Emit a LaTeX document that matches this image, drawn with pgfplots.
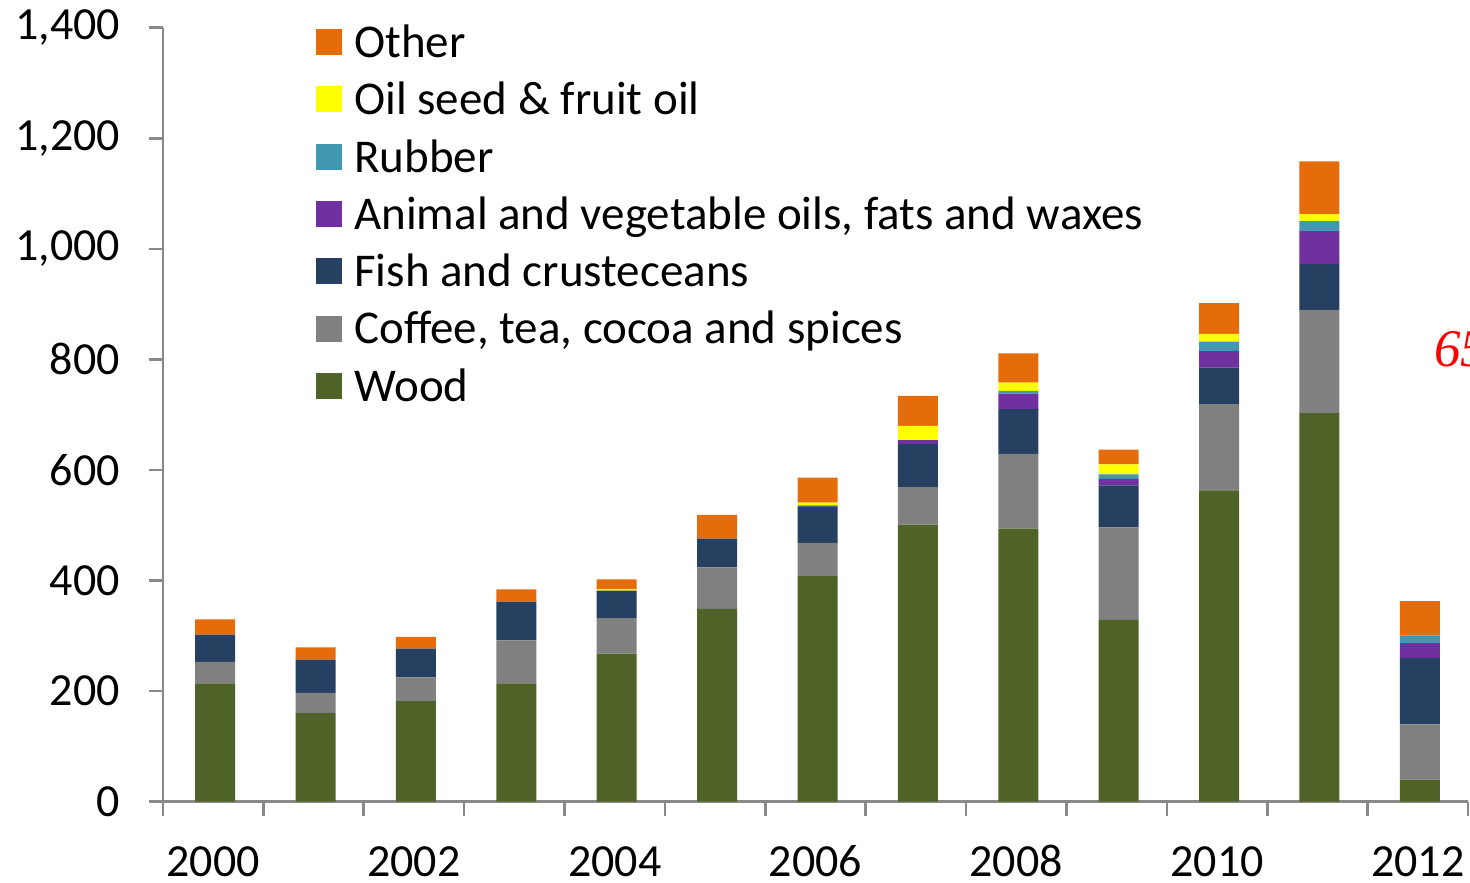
\documentclass[border=0pt]{standalone}
\usepackage{pgfplots}
\pgfplotsset{compat=1.18}
\usepackage{fontspec}
\setmainfont{Carlito}
\newfontfamily\redserif{Liberation Serif}
\definecolor{cWood}{RGB}{79,98,40}
\definecolor{cCoffee}{RGB}{128,128,128}
\definecolor{cFish}{RGB}{37,64,97}
\definecolor{cAnimal}{RGB}{112,48,160}
\definecolor{cRubber}{RGB}{67,151,177}
\definecolor{cOil}{RGB}{255,255,0}
\definecolor{cOther}{RGB}{228,108,10}
\definecolor{axisgray}{RGB}{137,137,137}

\pgfplotstableread{
x wood coffee fish animal rubber oil other
0  214 39  49  0  0  0  28
1  160 37  60  0  0  0  22
2  182 43  52  0  0  0  21
3  214 78  70  0  0  0  22
4  268 64  50  0  0  2  18
5  349 75  52  0  0  0  43
6  408 60  66  1  1  5  45
7  501 68  78  7  0  26 54
8  494 135 81  28 5  15 53
9  329 167 76  12 8  18 27
10 563 156 66  30 17 14 56
11 703 186 84  59 18 13 95
12 40  100 120 27 14 0  62
}\datatable

\begin{document}
\begin{tikzpicture}
\begin{axis}[
  at={(0pt,0pt)}, anchor=south west,
  scale only axis, width=652.5pt, height=387pt,
  xmin=-0.5, xmax=12.5, ymin=0, ymax=1400,
  ybar stacked, bar width=20pt, /pgf/bar shift=1pt,
  axis lines*=left,
  axis line style={draw=axisgray, line width=1.3pt},
  tick style={draw=axisgray, line width=1.3pt},
  tick align=outside, major tick length=7pt,
  xtick={-0.5,0.5,...,12.5}, xticklabels={},
  extra x ticks={0,2,4,6,8,10,12},
  extra x tick labels={2000,2002,2004,2006,2008,2010,2012},
  extra x tick style={major tick length=0pt, tick style={draw=none},
     xticklabel style={anchor=base, yshift=-37.5pt}},
  ytick={0,200,...,1400},
  tick label style={font=\fontsize{23}{27}\selectfont},
  yticklabel style={anchor=east, xshift=-11pt},
  /pgf/number format/.cd, 1000 sep={,}, assume math mode=true, /pgfplots/.cd,
  every axis plot/.append style={draw=none},
  legend style={draw=none, fill=none, at={(0.1126,1.0163)}, anchor=north west,
     font=\fontsize{23.5}{28}\selectfont, column sep=0pt, row sep=0pt,
     nodes={inner sep=0pt, text height=19pt, text depth=9.65pt}},
  legend cell align=left,
  reverse legend,
  legend image code/.code={\path[#1,draw=none] (0pt,-3.5pt) rectangle (13pt,9.5pt); \path (19pt,0pt);},
]
\addplot[fill=cWood] table[x=x,y=wood]{\datatable};
\addplot[fill=cCoffee] table[x=x,y=coffee]{\datatable};
\addplot[fill=cFish] table[x=x,y=fish]{\datatable};
\addplot[fill=cAnimal] table[x=x,y=animal]{\datatable};
\addplot[fill=cRubber] table[x=x,y=rubber]{\datatable};
\addplot[fill=cOil] table[x=x,y=oil]{\datatable};
\addplot[fill=cOther] table[x=x,y=other]{\datatable};
\legend{Wood, {Coffee, tea, cocoa and spices}, Fish and crusteceans, {Animal and vegetable oils, fats and waxes}, Rubber, Oil seed \& fruit oil, Other}
\end{axis}
\node[anchor=base west, inner sep=0pt, text=red, font=\redserif\itshape\fontsize{26.5}{30}\selectfont] at (635.5pt,217.5pt) {65};
\pgfresetboundingbox
\path[use as bounding box] (-81.5pt,-40.15pt) rectangle (653.5pt,400.85pt);
\end{tikzpicture}
\end{document}
